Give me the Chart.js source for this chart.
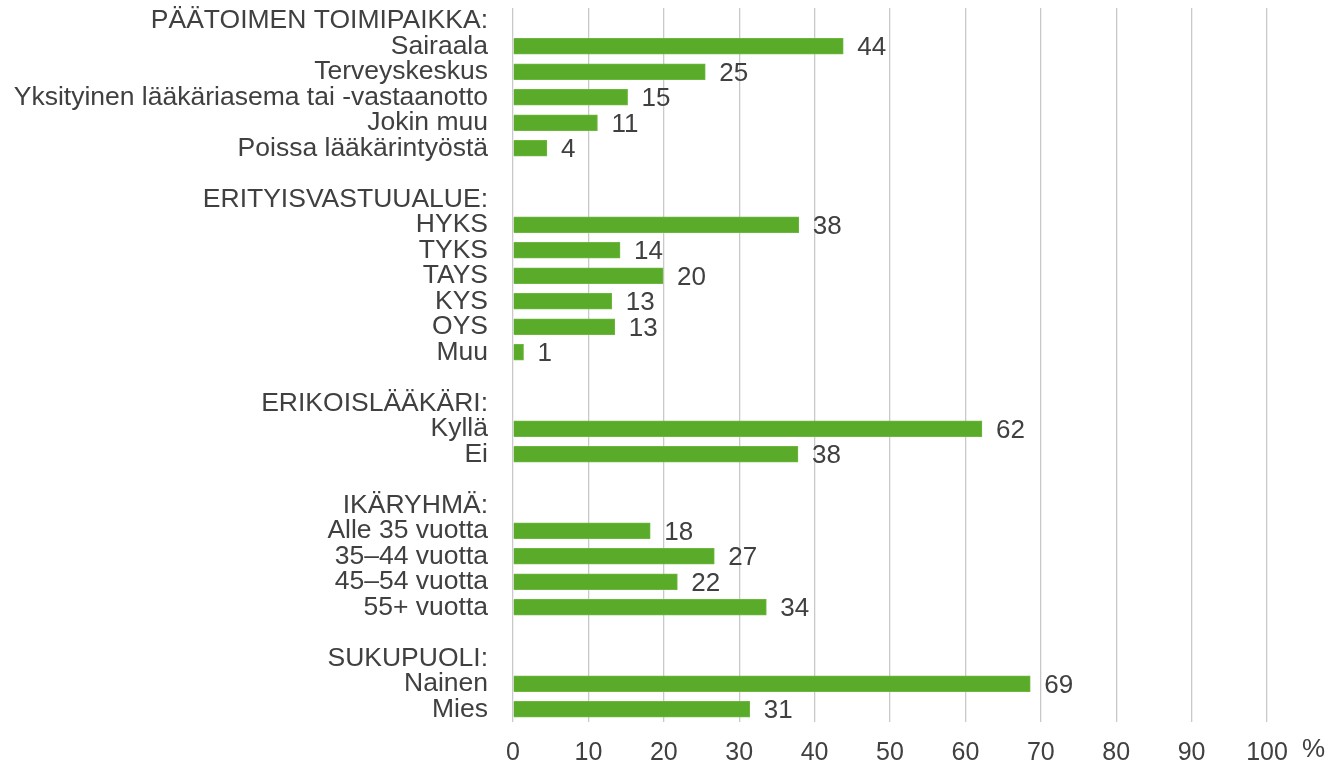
<!DOCTYPE html>
<html>
<head>
<meta charset="utf-8">
<script src="https://cdn.jsdelivr.net/npm/chart.js@4.4.1/dist/chart.umd.min.js"></script>
<style>
  html, body { margin: 0; padding: 0; background: #fff; }
  #wrap { width: 1330px; height: 765px; }
</style>
</head>
<body>
<div id="wrap"><canvas id="chart"></canvas></div>
<script>
// rows, top to bottom; headers and blank rows have no bar
var categories = [
  "PÄÄTOIMEN TOIMIPAIKKA:", "Sairaala", "Terveyskeskus", "Yksityinen lääkäriasema tai -vastaanotto", "Jokin muu", "Poissa lääkärintyöstä",
  "",
  "ERITYISVASTUUALUE:", "HYKS", "TYKS", "TAYS", "KYS", "OYS", "Muu",
  "",
  "ERIKOISLÄÄKÄRI:", "Kyllä", "Ei",
  "",
  "IKÄRYHMÄ:", "Alle 35 vuotta", "35–44 vuotta", "45–54 vuotta", "55+ vuotta",
  "",
  "SUKUPUOLI:", "Nainen", "Mies"
];
// bar lengths
var barValues = [
  null, 43.8, 25.5, 15.2, 11.2, 4.5,
  null,
  null, 37.9, 14.2, 19.9, 13.1, 13.5, 1.4,
  null,
  null, 62.2, 37.8,
  null,
  null, 18.2, 26.7, 21.8, 33.6,
  null,
  null, 68.6, 31.4
];
// printed value labels
var shownValues = [
  null, 44, 25, 15, 11, 4,
  null,
  null, 38, 14, 20, 13, 13, 1,
  null,
  null, 62, 38,
  null,
  null, 18, 27, 22, 34,
  null,
  null, 69, 31
];
var xTicks = [0, 10, 20, 30, 40, 50, 60, 70, 80, 90, 100];

var textColor = '#404040';
var fontFam = 'Arial, "Liberation Sans", sans-serif';
var fontSize = 26.5;

var valueLabels = {
  id: 'valueLabels',
  afterDatasetsDraw: function(chart) {
    var ctx = chart.ctx;
    var meta = chart.getDatasetMeta(0);
    ctx.save();
    ctx.fillStyle = textColor;
    ctx.font = '26px ' + fontFam;
    ctx.textAlign = 'left';
    ctx.textBaseline = 'middle';
    meta.data.forEach(function(bar, i) {
      if (shownValues[i] === null) return;
      ctx.fillText(String(shownValues[i]), bar.x + 14, bar.y + 2);
    });
    // unit sign after the last tick
    ctx.fillText('%', chart.chartArea.right + 35, 750);
    ctx.restore();
  }
};

new Chart(document.getElementById('chart'), {
  type: 'bar',
  data: {
    labels: categories,
    datasets: [{
      data: barValues,
      backgroundColor: '#5aab2a',
      borderColor: '#6cb83f',
      borderWidth: 1,
      barThickness: 16
    }]
  },
  plugins: [valueLabels],
  options: {
    indexAxis: 'y',
    responsive: true,
    maintainAspectRatio: false,
    animation: false,
    layout: { padding: { top: 8, right: 63, left: 0, bottom: 0 } },
    plugins: { legend: { display: false }, tooltip: { enabled: false } },
    scales: {
      x: {
        min: 0, max: 100,
        afterBuildTicks: function(scale) {
          scale.ticks = xTicks.map(function(v) { return { value: v }; });
        },
        afterFit: function(scale) { scale.height = 43; },
        border: { display: false },
        grid: { color: '#c9c9c9', lineWidth: 1.3, drawTicks: false },
        ticks: {
          color: textColor,
          font: { size: 25, family: fontFam },
          padding: 16,
          maxRotation: 0
        }
      },
      y: {
        afterFit: function(scale) {
          scale.width = 513;
          scale.paddingTop = 0;
          scale.paddingBottom = 0;
        },
        border: { display: false },
        grid: { display: false, drawTicks: false },
        ticks: {
          color: textColor,
          font: { size: fontSize, family: fontFam },
          padding: 25,
          autoSkip: false
        }
      }
    }
  }
});
</script>
</body>
</html>
